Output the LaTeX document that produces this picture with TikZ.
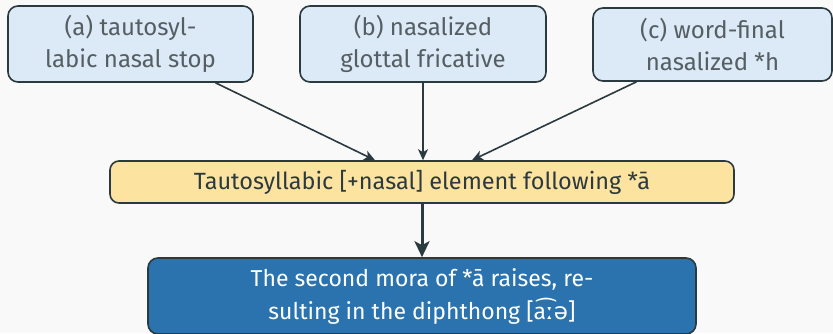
\documentclass[tikz,border=0pt]{standalone}
\usepackage{fontspec}
\setmainfont{Fira Sans}
\newfontfamily\ipafont{DejaVu Sans}
\usetikzlibrary{arrows.meta}
\definecolor{bg}{HTML}{F9F9F9}
\definecolor{edge}{HTML}{2A3A3F}
\definecolor{topfill}{HTML}{DCE9F6}
\definecolor{toptext}{HTML}{555E62}
\definecolor{midfill}{HTML}{FDE3A0}
\definecolor{midtext}{HTML}{2C3A3E}
\definecolor{botfill}{HTML}{2A73AE}
\tikzset{
  topbox/.style={draw=edge, line width=1.6pt, fill=topfill, rounded corners=10pt,
    align=center, text=toptext, inner sep=0pt,
    font=\fontsize{24}{32}\selectfont},
  midbox/.style={draw=edge, line width=1.6pt, fill=midfill, rounded corners=9pt,
    align=center, text=midtext, inner sep=0pt, minimum width=624pt, minimum height=42pt,
    font=\fontsize{23.5}{30}\selectfont},
  botbox/.style={draw=edge, line width=1.6pt, fill=botfill, rounded corners=10pt,
    align=center, text=white, inner sep=0pt, minimum width=548pt, minimum height=76pt,
    font=\fontsize{23}{33}\selectfont},
  conn/.style={draw=edge, line width=1.6pt, -{Stealth[length=11pt,width=10pt,inset=3pt]}},
  bigconn/.style={draw=edge, line width=3pt, -{Stealth[length=16pt,width=15pt,inset=4pt]}}
}
\begin{document}
\begin{tikzpicture}[x=1pt,y=1pt]
\fill[bg] (0,0) rectangle (833,-333);
\useasboundingbox (0,0) rectangle (833,-333);
\node[topbox, minimum width=245pt, minimum height=76pt] (a) at (130.5,-44) {(a) tautosyl-\\labic nasal stop};
\node[topbox, minimum width=246pt, minimum height=76pt] (b) at (423,-44) {(b) nasalized\\glottal fricative};
\node[topbox, minimum width=239pt, minimum height=73pt] (c) at (712.5,-44.5) {(c) word-final\\nasalized *h};
\node[midbox] (y) at (422,-182) {Tautosyllabic [+nasal] element following *ā};
\node[botbox] (z) at (422,-296) {The second mora of *ā raises, re-\\sulting in the diphthong [a{\ipafont ͡ːə}]};
\draw[conn] ([xshift=85pt]a.south) -- ([xshift=-47pt]y.north);
\draw[conn] (b.south) -- ([xshift=1pt]y.north);
\draw[conn] ([xshift=-76pt]c.south) -- ([xshift=50pt]y.north);
\draw[bigconn] (y.south) -- (z.north);
\end{tikzpicture}
\end{document}
